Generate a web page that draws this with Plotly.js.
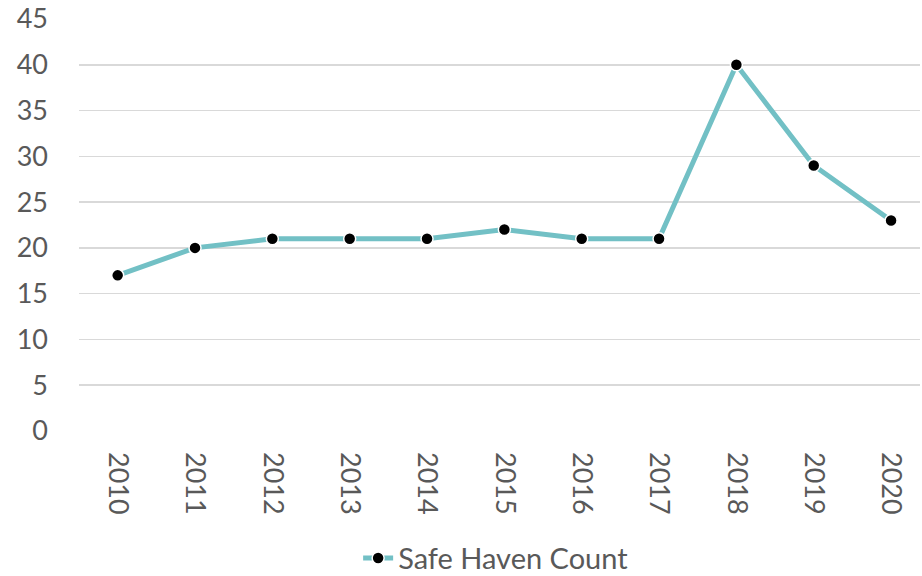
<!DOCTYPE html>
<html>
<head>
<meta charset="utf-8">
<script src="https://cdn.plot.ly/plotly-3.0.1.min.js"></script>
<style>html,body{margin:0;padding:0;background:#fff;}#chart{width:922px;height:576px;}</style>
</head>
<body>
<div id="chart"></div>
<script>
const years = ["2010","2011","2012","2013","2014","2015","2016","2017","2018","2019","2020"];
const safeHavenCount = [17, 20, 21, 21, 21, 22, 21, 21, 40, 29, 23];
const yTicks = [0, 5, 10, 15, 20, 25, 30, 35, 40, 45];
const seriesName = "Safe Haven Count";

const trace = {
  x: years,
  y: safeHavenCount,
  type: "scatter",
  mode: "lines+markers",
  name: seriesName,
  line: {color: "#72C0C5", width: 5},
  marker: {color: "#000000", size: 12, line: {color: "#ffffff", width: 1.5}}
};

const layout = {
  width: 922,
  height: 576,
  margin: {l: 79, r: 2, t: 19, b: 145},
  paper_bgcolor: "#ffffff",
  plot_bgcolor: "#ffffff",
  font: {family: "Lato, 'Open Sans', sans-serif", color: "#595959", size: 27},
  showlegend: true,
  legend: {orientation: "h", x: 0.496, xanchor: "center", xref: "paper",
           y: 0.031, yanchor: "middle", yref: "container",
           font: {size: 29, color: "#595959"}},
  xaxis: {
    type: "category",
    range: [-0.5, 10.374],
    tickangle: 90,
    showgrid: false,
    zeroline: false,
    showline: false,
    ticks: "",
    ticklabelstandoff: 20,
    tickfont: {size: 27, color: "#595959"}
  },
  yaxis: {
    range: [0, 45],
    tickvals: yTicks,
    showgrid: true,
    gridcolor: "#d9d9d9",
    gridwidth: 1.5,
    zeroline: false,
    showline: false,
    ticks: "",
    ticklabelstandoff: 30,
    tickfont: {size: 27, color: "#595959"}
  }
};

Plotly.newPlot("chart", [trace], layout, {displayModeBar: false, staticPlot: true});
</script>
</body>
</html>
